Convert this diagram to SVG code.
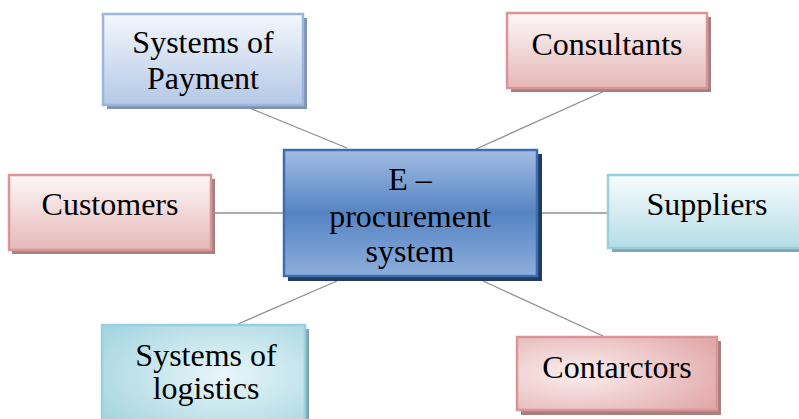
<svg xmlns="http://www.w3.org/2000/svg" width="799" height="419" viewBox="0 0 799 419">
  <defs>
    <linearGradient id="gBlueLight" x1="0" y1="0" x2="0" y2="1">
      <stop offset="0" stop-color="#f4f7fc"/>
      <stop offset="1" stop-color="#b4c8e6"/>
    </linearGradient>
    <linearGradient id="gPink" x1="0" y1="0" x2="0" y2="1">
      <stop offset="0" stop-color="#fdf7f7"/>
      <stop offset="1" stop-color="#e6b8b8"/>
    </linearGradient>
    <radialGradient id="gPinkR" cx="0.3" cy="0.5" r="0.8">
      <stop offset="0" stop-color="#fbeeee"/>
      <stop offset="1" stop-color="#e2a9aa"/>
    </radialGradient>
    <linearGradient id="gCyan" x1="0" y1="0" x2="0" y2="1">
      <stop offset="0" stop-color="#f7fcfd"/>
      <stop offset="1" stop-color="#b5dde7"/>
    </linearGradient>
    <radialGradient id="gCyanR" cx="0.6" cy="0.5" r="0.8">
      <stop offset="0" stop-color="#e9f6f9"/>
      <stop offset="1" stop-color="#9fd2df"/>
    </radialGradient>
    <linearGradient id="gCenter" x1="0" y1="0" x2="0" y2="1">
      <stop offset="0" stop-color="#a3bde2"/>
      <stop offset="0.5" stop-color="#5584c3"/>
      <stop offset="1" stop-color="#8eaedb"/>
    </linearGradient>
  </defs>
  <style>
    .lbl { font-family: "Liberation Serif", "Times New Roman", serif; font-size: 32px; fill: #000; text-anchor: middle; }
    .conn { stroke: #909090; stroke-width: 1.3; fill: none; }
    .blueL { fill: url(#gBlueLight); stroke: #9bb7dc; stroke-width: 2.5; }
    .pink { fill: url(#gPink); stroke: #d99597; stroke-width: 2.5; }
    .pinkR { fill: url(#gPinkR); stroke: #d99597; stroke-width: 2.5; }
    .cyan { fill: url(#gCyan); stroke: #97d0de; stroke-width: 2.5; }
    .cyanR { fill: url(#gCyanR); stroke: #97d0de; stroke-width: 2.5; }
    .center { fill: url(#gCenter); stroke: #3d6fb0; stroke-width: 2.5; }
    .shB { fill: #7e92b2; }
    .shP { fill: #a88080; }
    .shC { fill: #7fa5b0; }
    .shN { fill: #1f3b66; }
  </style>

  <!-- connectors -->
  <g id="connectors">
    <line class="conn" x1="247" y1="107" x2="347" y2="148"/>
    <line class="conn" x1="607" y1="90" x2="476" y2="149"/>
    <line class="conn" x1="211" y1="213" x2="283" y2="213"/>
    <line class="conn" x1="538" y1="213" x2="608" y2="213"/>
    <line class="conn" x1="337" y1="281" x2="238" y2="324"/>
    <line class="conn" x1="483" y1="281" x2="603" y2="336"/>
  </g>

  <!-- central node -->
  <g id="eprocurement">
    <rect class="shN" x="288" y="154" width="254" height="127"/>
    <rect class="center" x="284" y="150" width="253" height="126"/>
    <text class="lbl" x="410" y="190">E –</text>
    <text class="lbl" x="410" y="227">procurement</text>
    <text class="lbl" x="410" y="262">system</text>
  </g>

  <g id="payment">
    <rect class="shB" x="107" y="18" width="200" height="91"/>
    <rect class="blueL" x="103" y="14" width="200" height="91"/>
    <text class="lbl" x="203" y="53">Systems of</text>
    <text class="lbl" x="203" y="89">Payment</text>
  </g>

  <g id="consultants">
    <rect class="shP" x="511" y="17" width="200" height="75"/>
    <rect class="pink" x="507" y="13" width="200" height="75"/>
    <text class="lbl" x="607" y="55">Consultants</text>
  </g>

  <g id="customers">
    <rect class="shP" x="12" y="179" width="203" height="75"/>
    <rect class="pink" x="9" y="175" width="202" height="75"/>
    <text class="lbl" x="110" y="215">Customers</text>
  </g>

  <g id="suppliers">
    <rect class="shC" x="612" y="179" width="200" height="73"/>
    <rect class="cyan" x="608" y="175" width="200" height="73"/>
    <text class="lbl" x="707" y="215">Suppliers</text>
  </g>

  <g id="logistics">
    <rect class="shC" x="106" y="329" width="203" height="100"/>
    <rect class="cyanR" x="102" y="325" width="203" height="100"/>
    <text class="lbl" x="206" y="366">Systems of</text>
    <text class="lbl" x="206" y="399">logistics</text>
  </g>

  <g id="contractors">
    <rect class="shP" x="521" y="341" width="200" height="74"/>
    <rect class="pinkR" x="517" y="337" width="200" height="73"/>
    <text class="lbl" x="617" y="378">Contarctors</text>
  </g>
</svg>
